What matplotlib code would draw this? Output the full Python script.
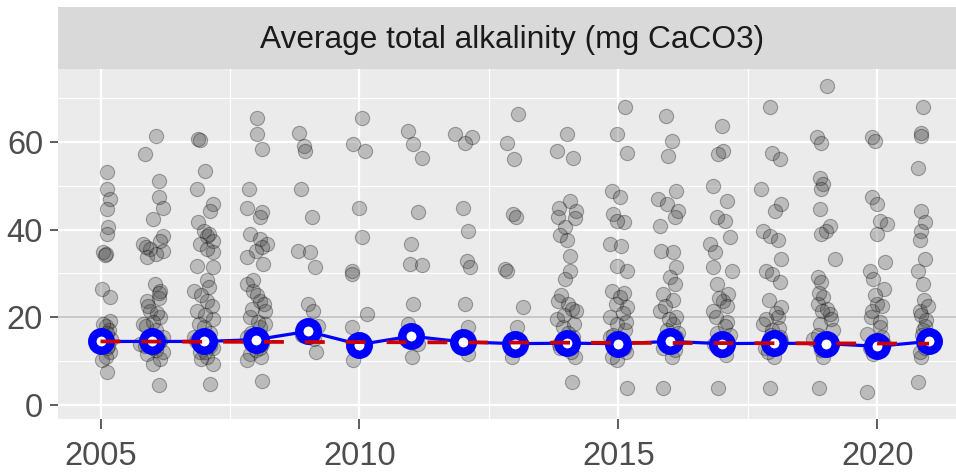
import matplotlib.pyplot as plt
from matplotlib.ticker import MultipleLocator

alk_2005 = [53, 49.2, 46.9, 44.7, 40.5, 39, 34.8, 34.5, 34.3, 26.5, 24.6, 19.2, 18, 17, 16, 15, 14, 13, 12, 11, 10.2, 7.5,
            18.5, 16.5, 13.5]
jit_2005 = [.12, .12, .18, .12, .15, .12, .05, .1, .08, .03, .18, .18, .1, .16, .06, .2, 0, .12, .18, .1, .02, .12,
            .05, .12, .15]
alk_2006 = [61.3, 57.2, 51.1, 47.3, 45, 42.4, 38.6, 37.4, 36.7, 35.6, 35.2, 33.7, 34.4, 27.6, 26.1, 23.8, 21.5, 20, 18.5, 17, 15.5, 14, 13, 11.7, 10.5, 9.4, 4.5,
            24.5, 22.5, 21, 19, 18, 16, 14.5, 13.5, 12.5, 12, 25.5, 36]
jit_2006 = [.07, -.14, .12, .12, .21, .02, .21, .15, -.17, -.05, .21, -.11, .08, .05, .15, -.11, -.05, .15, -.17, .08, .21, -.24, .02, -.11, .15, .02, .12,
            .12, -.08, .1, .02, -.12, -.02, .15, -.15, .08, .2, .12, -.12]
alk_2007 = [60.6, 60.4, 53.4, 49.2, 45.8, 44.3, 41.6, 39.7, 38.5, 37.4, 36.7, 34.8, 31.8, 31.4, 28.4, 26.1, 23.8, 21.5, 19.5, 17.8, 15.5, 13.5, 12, 11, 9.4, 4.9,
            27, 25, 22.5, 20.5, 18.5, 16.5, 14.5, 13, 12, 10.5, 39, 35.5]
jit_2007 = [-.11, -.08, .02, -.14, .18, .12, -.11, 0, .05, .18, -.08, .18, -.14, .18, .05, -.2, .05, -.14, .18, 0, -.2, .12, -.08, .05, .18, .12,
            .1, -.05, .15, .02, -.1, .12, -.15, .18, .02, -.05, .1, .05]
alk_2008 = [65.5, 61.7, 58.3, 49.2, 45, 43.9, 42.8, 39, 37.9, 36.7, 35.2, 33.7, 32.2, 27.6, 26.1, 23.8, 21.5, 20, 17.8, 15.5, 13, 11.7, 10.2, 5.6,
            25, 23, 22, 19, 18.5, 16.5, 14, 12.5, 11, 28.5, 36]
jit_2008 = [.03, .03, .12, -.13, -.18, .11, .08, -.12, .08, .21, .01, -.18, .14, -.18, -.05, .08, .17, -.12, .08, -.18, .08, -.12, -.18, .12,
            .02, .15, -.08, .05, .18, -.1, .12, .0, .1, -.05, .12]
alk_2009 = [62.1, 59.1, 57.9, 49.2, 42.8, 35.2, 34.8, 31.4, 23.1, 21.5, 18, 16, 15, 12]
jit_2009 = [-.17, -.08, -.05, -.12, .08, -.18, .05, .14, .01, .1, .2, -.1, .12, .17]
alk_2010 = [65.5, 59.5, 57.9, 45, 38.2, 30.6, 29.9, 20.8, 17.8, 14, 10.2]
jit_2010 = [.05, -.12, .11, 0, .05, -.15, -.14, .14, -.15, .11, -.12]
alk_2011 = [62.5, 59.5, 56.4, 43.9, 36.7, 32.2, 31.9, 23.1, 18.5, 14, 11]
jit_2011 = [-.06, .04, .2, .14, 0, -.02, .2, .04, -.06, .14, .01]
alk_2012 = [61.7, 61, 59.8, 45, 39.7, 32.9, 31.4, 23.1, 17.8, 14.5, 11.7]
jit_2012 = [-.15, .17, .04, 0, .1, .07, .14, .04, .1, -.09, .1]
alk_2013 = [66.3, 59.8, 56, 43.5, 42.8, 31, 30.6, 22.3, 17.8, 14, 11]
jit_2013 = [.07, -.16, -.01, -.03, .03, -.19, -.16, .15, .05, -.1, -.05]
alk_2014 = [61.7, 57.9, 56.4, 46.6, 45, 44.3, 42.8, 42.6, 40.5, 38.7, 37.5, 34, 30.6, 28.7, 23.8, 23, 21.5, 19.5, 17.8, 15.5, 13, 11, 5.3,
            25, 22, 20.5, 18.5, 16.5, 14, 12]
jit_2014 = [.01, -.19, .13, .06, -.14, .19, -.16, .16, -.03, -.13, 0, .06, .06, -.03, -.16, .03, .19, -.19, -.06, .13, -.13, .16, .1,
            -.1, .1, -.05, .15, .02, -.15, .08]
alk_2015 = [67.8, 61.7, 57.5, 48.8, 47.3, 43.5, 41.6, 36.7, 36.3, 31.8, 30.6, 26.1, 24.6, 22.3, 20, 18.5, 17, 15.5, 13, 10.2, 3.8,
            25.5, 23, 21, 19, 16, 14, 12, 11, 42]
jit_2015 = [.12, -.03, .16, -.13, .03, -.1, .1, -.16, .06, -.03, .16, -.13, .03, .16, -.16, -.03, .13, -.16, .1, -.03, .17,
            .1, -.05, .08, .15, -.1, .05, .15, -.12, -.02]
alk_2016 = [65.9, 60.2, 56.8, 48.8, 46.9, 45.8, 44.3, 42.8, 40.9, 35.2, 34.8, 31.4, 29.1, 27.6, 25.3, 21.5, 18.5, 17, 15.5, 13, 11, 3.8,
            24, 22.5, 20, 19.5, 16.5, 14.5, 12.5]
jit_2016 = [-.08, .03, -.04, .12, -.23, -.07, .15, .09, -.2, -.17, .06, .12, 0, .09, -.14, -.2, .06, -.07, .12, -.14, .03, -.14,
            .05, -.1, .12, -.02, .15, -.12, .1]
alk_2017 = [63.6, 57.9, 57.1, 50, 46.6, 42.8, 42, 38.2, 36.7, 34.8, 31.4, 30.6, 27.6, 25.3, 23.8, 21.5, 19, 16.5, 15, 12.5, 3.8,
            24.5, 22.5, 20, 18, 16, 14, 11.5]
jit_2017 = [0, .03, -.07, -.17, .09, -.1, .06, .15, -.23, -.14, -.17, .19, -.1, .12, .03, -.17, .09, -.1, .03, -.04, -.07,
            -.05, .1, -.12, .05, .15, -.15, .08]
alk_2018 = [67.8, 57.5, 56, 49.2, 45.8, 44.3, 39.7, 38.6, 37.5, 33.3, 30.6, 29.9, 28, 22.3, 20, 18.5, 17, 15.5, 13, 11, 3.8,
            24, 21, 19.5, 17.5, 16, 14.5, 12]
jit_2018 = [-.08, -.04, .12, -.24, .15, .02, -.2, -.08, .09, .15, -.14, -.04, .12, .15, .09, -.2, -.04, .12, -.17, 0, -.08,
            -.1, .05, -.15, .1, -.05, .15, -.12]
alk_2019 = [72.7, 61, 59.8, 51.8, 50.3, 49.2, 44.7, 40.9, 39.7, 39, 33.3, 29.1, 28, 24.6, 23.1, 20.8, 18.5, 17, 15, 13, 11, 3.8,
            25.5, 22, 21.5, 19.5, 16, 14.5, 12.5]
jit_2019 = [.03, -.16, -.08, -.11, -.04, -.08, -.11, .08, 0, -.08, .18, -.14, -.08, -.04, -.14, .08, -.11, .15, -.24, .08, -.04, -.12,
            -.12, .02, -.06, .1, -.15, .05, -.08]
alk_2020 = [61, 60.2, 47.3, 45.8, 42, 41.2, 39, 32.5, 30.6, 28.7, 26.5, 23.1, 21.5, 17.8, 16.2, 14, 11.7, 3,
            25, 22.5, 20, 19, 15.5, 13, 12.5]
jit_2020 = [-.11, -.05, -.11, -.01, .05, .18, -.01, .15, -.14, -.08, .12, -.01, -.11, .05, -.2, .12, -.08, -.2,
            -.05, .1, -.12, .05, .1, -.15, .02]
alk_2021 = [67.8, 62.1, 61.3, 54.1, 44.3, 41.6, 39.7, 37.5, 33.3, 30.6, 27.6, 21.5, 19.3, 17, 15, 13, 11, 5.3,
            24, 22.5, 20.5, 18, 16, 14, 12]
jit_2021 = [-.12, -.15, -.15, -.21, -.15, -.08, -.15, -.18, -.08, -.21, -.12, -.18, -.05, -.12, 0, -.08, -.15, -.21,
            -.1, -.03, -.16, -.08, -.14, -.05, -.18]

years = list(range(2005, 2022))
yearly_median = [14.5, 14.5, 14.5, 14.9, 16.8, 13.8, 15.7, 14.4, 14.0, 14.1, 14.0, 14.5, 14.0, 14.1, 14.0, 13.4, 14.5]
trend_years = [2005, 2021]
trend_vals = [14.5, 14.0]
ref_level = 20
title = 'Average total alkalinity (mg CaCO3)'

obs = [(alk_2005, jit_2005), (alk_2006, jit_2006), (alk_2007, jit_2007), (alk_2008, jit_2008),
       (alk_2009, jit_2009), (alk_2010, jit_2010), (alk_2011, jit_2011), (alk_2012, jit_2012),
       (alk_2013, jit_2013), (alk_2014, jit_2014), (alk_2015, jit_2015), (alk_2016, jit_2016),
       (alk_2017, jit_2017), (alk_2018, jit_2018), (alk_2019, jit_2019), (alk_2020, jit_2020),
       (alk_2021, jit_2021)]

plt.rcParams['font.family'] = ['Liberation Sans', 'DejaVu Sans']

W, H = 956, 472
fig = plt.figure(figsize=(W/100, H/100), dpi=100)
left, right = 58.3, 956
ptop, pbot = 69.3, 418.7
ax = fig.add_axes([left/W, 1-pbot/H, (right-left)/W, (pbot-ptop)/H])
strip = fig.add_axes([left/W, 1-ptop/H, (right-left)/W, (ptop-7.3)/H])

ax.set_facecolor('#EBEBEB')
for s in ax.spines.values():
    s.set_visible(False)
ax.set_axisbelow(True)
ax.xaxis.set_major_locator(MultipleLocator(5))
ax.xaxis.set_minor_locator(MultipleLocator(2.5))
ax.yaxis.set_major_locator(MultipleLocator(20))
ax.yaxis.set_minor_locator(MultipleLocator(10))
ax.grid(which='major', color='white', lw=1.6)
ax.grid(which='minor', color='white', lw=0.8)
ax.tick_params(which='major', length=5.5, width=1.1, color='#333333',
               labelsize=23.5, labelcolor='#4D4D4D', pad=5.5)
ax.tick_params(axis='x', length=7, pad=9)
ax.tick_params(which='minor', length=0)

ax.axhline(ref_level, color='#BEBEBE', lw=1.2, zorder=1)

for yr, (vals, jit) in zip(years, obs):
    xs = [yr + j for j in jit]
    ax.scatter(xs, vals, s=105, facecolor=(0.25, 0.25, 0.25, 0.28),
               edgecolor=(0, 0, 0, 0.3), linewidths=0.8, zorder=2)

ax.plot(years, yearly_median, color='blue', lw=2.3, marker='o', ms=13.3,
        mfc='white', mec='blue', mew=6.1, zorder=3)
ax.plot(trend_years, trend_vals, color='#CC0000', lw=2.7,
        linestyle=(0, (5.3, 5.6)), zorder=4)

ax.set_xlim(2004.185, 2021.52)
ax.set_ylim(-3.1, 76.5)

strip.set_facecolor('#D9D9D9')
strip.set_xticks([])
strip.set_yticks([])
for s in strip.spines.values():
    s.set_visible(False)
strip.text(0.505, 0.47, title, ha='center', va='center', fontsize=22.8,
           color='#1A1A1A', transform=strip.transAxes)

fig.savefig('out.png', dpi=100)
